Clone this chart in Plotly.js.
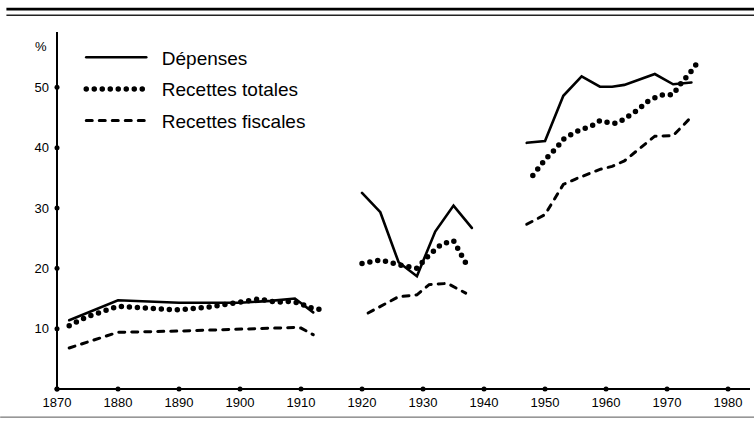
<!DOCTYPE html>
<html>
<head>
<meta charset="utf-8">
<script src="https://cdn.plot.ly/plotly-3.0.1.min.js"></script>
<style>
  html, body { margin: 0; padding: 0; background: #fff; }
  #chart { width: 754px; height: 425px; }
  path.js-line { stroke-linecap: round; }
</style>
</head>
<body>
<div id="chart"></div>
<script>
// Dépenses (solid)
const depYears = [1872, 1880, 1890, 1900, 1905, 1909, 1912, null,
                  1920, 1923, 1926, 1929, 1932, 1935, 1938, null,
                  1947, 1950, 1953, 1956, 1959, 1961, 1963, 1968, 1971, 1974];
const depValues = [11.4, 14.7, 14.3, 14.3, 14.6, 15.0, 12.7, null,
                   32.5, 29.3, 21.0, 18.7, 26.1, 30.4, 26.7, null,
                   40.8, 41.1, 48.6, 51.8, 50.1, 50.1, 50.4, 52.2, 50.5, 50.8];

// Recettes totales (dotted)
const totYears = [1872, 1875, 1880, 1885, 1890, 1895, 1900, 1903, 1906, 1908, 1910, 1911, 1913, null,
                  1920, 1923, 1926, 1929, 1931, 1933, 1935, 1936, 1937, null,
                  1948, 1950, 1952, 1953, 1955, 1958, 1959, 1961, 1962, 1965, 1967, 1969, 1971, 1972, 1974, 1975];
const totValues = [10.5, 12.0, 13.7, 13.4, 13.1, 13.6, 14.3, 14.9, 14.4, 14.5, 14.2, 13.6, 13.2, null,
                   20.8, 21.4, 20.6, 20.0, 22.2, 24.0, 24.6, 22.8, 20.9, null,
                   35.4, 38.0, 40.1, 41.4, 42.6, 43.8, 44.5, 44.0, 44.1, 46.1, 47.8, 48.7, 48.8, 50.3, 52.7, 54.1];

// Recettes fiscales (dashed)
const fisYears = [1872, 1880, 1890, 1900, 1909, 1910, 1912, null,
                  1921, 1926, 1929, 1931, 1934, 1937, null,
                  1947, 1950, 1953, 1955, 1959, 1961, 1963, 1968, 1971, 1974];
const fisValues = [6.8, 9.4, 9.6, 9.9, 10.2, 10.1, 9.0, null,
                   12.6, 15.3, 15.6, 17.3, 17.5, 15.9, null,
                   27.3, 28.9, 33.9, 34.8, 36.4, 36.9, 37.8, 41.9, 42.0, 45.1];

const seriesNames = ['Dépenses', 'Recettes totales', 'Recettes fiscales'];
const xTickVals = [1870, 1880, 1890, 1900, 1910, 1920, 1930, 1940, 1950, 1960, 1970, 1980];
const yTickVals = [0, 10, 20, 30, 40, 50];
const yTickLabels = ['', '10', '20', '30', '40', '50'];

const tickFont = { family: 'Liberation Sans, Arial, sans-serif', size: 13, color: '#000' };
const pad = '\u00a0\u00a0';

const traces = [
  { x: depYears, y: depValues, name: pad + seriesNames[0], mode: 'lines', legendgroup: 'a',
    line: { color: '#000', width: 2.6 } },
  { x: totYears, y: totValues, name: pad + seriesNames[1], mode: 'lines', legendgroup: 'b',
    line: { color: '#000', width: 5.5, dash: '0px,8px' } },
  { x: fisYears, y: fisValues, name: pad + seriesNames[2], mode: 'lines', legendgroup: 'c',
    line: { color: '#000', width: 3, dash: '6px,7px' } },
  { x: xTickVals, y: xTickVals.map(() => 0), mode: 'markers', showlegend: false, hoverinfo: 'skip',
    cliponaxis: false, marker: { color: '#000', size: 5 } },
  { x: yTickVals.map(() => 1870), y: yTickVals, mode: 'markers', showlegend: false, hoverinfo: 'skip',
    cliponaxis: false, marker: { color: '#000', size: 5 } }
];

const layout = {
  width: 754, height: 425,
  margin: { l: 57, r: 4, t: 33, b: 36 },
  paper_bgcolor: '#fff', plot_bgcolor: '#fff',
  showlegend: true,
  legend: {
    x: 0.035, y: 0.985, xanchor: 'left', yanchor: 'top',
    font: { family: 'Liberation Sans, Arial, sans-serif', size: 19, color: '#000' },
    itemwidth: 60, tracegroupgap: 4, traceorder: 'grouped',
    bgcolor: 'rgba(0,0,0,0)', borderwidth: 0
  },
  xaxis: {
    range: [1870, 1983.6], tickvals: xTickVals, ticktext: xTickVals.map(String),
    showgrid: false, zeroline: false, showline: false,
    ticks: '', tickfont: tickFont, ticklabelstandoff: 4, fixedrange: true
  },
  yaxis: {
    range: [0, 59], tickvals: yTickVals, ticktext: yTickLabels,
    showgrid: false, zeroline: false, showline: false,
    ticks: '', tickfont: tickFont, ticklabelstandoff: 7, fixedrange: true
  },
  annotations: [
    { text: '%', xref: 'paper', yref: 'paper', x: -0.011, y: 0.962, xanchor: 'right', yanchor: 'middle',
      showarrow: false, font: tickFont }
  ],
  shapes: [
    // axis lines
    { type: 'line', xref: 'paper', yref: 'paper', x0: 0, x1: 1, y0: 0, y1: 0,
      line: { color: '#000', width: 2 }, layer: 'below' },
    { type: 'line', xref: 'paper', yref: 'paper', x0: 0, x1: 0, y0: 0, y1: 1.003,
      line: { color: '#000', width: 2 }, layer: 'below' },
    // frame rules
    { type: 'line', xref: 'paper', yref: 'paper', x0: -0.073, x1: 1.006, y0: 1.067, y1: 1.067,
      line: { color: '#000', width: 2.6 } },
    { type: 'line', xref: 'paper', yref: 'paper', x0: -0.073, x1: 1.006, y0: 1.050, y1: 1.050,
      line: { color: '#222', width: 1.5 } },
    { type: 'line', xref: 'paper', yref: 'paper', x0: -0.082, x1: 1.006, y0: -0.079, y1: -0.079,
      line: { color: '#555', width: 1 } }
  ]
};

Plotly.newPlot('chart', traces, layout, { displayModeBar: false, staticPlot: true });
</script>
</body>
</html>
